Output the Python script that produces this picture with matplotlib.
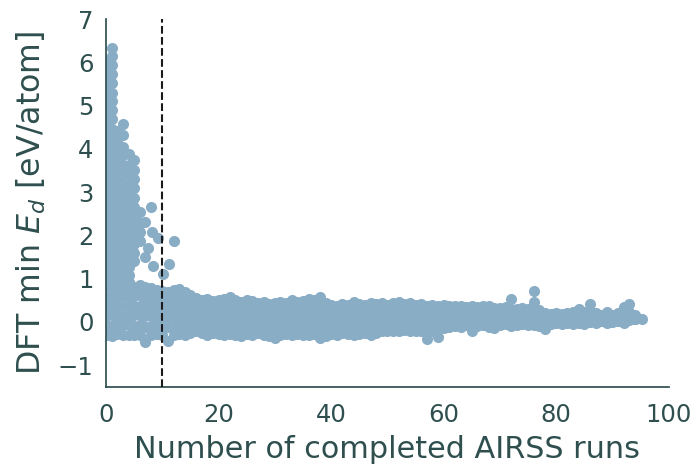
import matplotlib
matplotlib.use("Agg")
import matplotlib.pyplot as plt

# ---- data -------------------------------------------------------------
# columns of the main band: one entry per number of completed runs (0..94)
band_runs = list(range(95))

band_top = [
    0.80, 0.82, 0.80, 0.78, 0.80, 0.80, 0.85, 0.80, 0.78, 0.74,
    0.72, 0.70, 0.74, 0.76, 0.70, 0.62, 0.55, 0.50, 0.52, 0.48,
    0.50, 0.52, 0.57, 0.50, 0.46, 0.50, 0.48, 0.44, 0.46, 0.42,
    0.44, 0.46, 0.44, 0.50, 0.46, 0.48, 0.52, 0.50, 0.57, 0.44,
    0.40, 0.38, 0.42, 0.40, 0.45, 0.42, 0.40, 0.43, 0.42, 0.44,
    0.40, 0.43, 0.45, 0.42, 0.44, 0.40, 0.42, 0.38, 0.40, 0.38,
    0.40, 0.37, 0.36, 0.38, 0.35, 0.36, 0.34, 0.38, 0.36, 0.33,
    0.32, 0.34, 0.53, 0.30, 0.32, 0.30, 0.46, 0.28, 0.20, 0.18,
    0.20, 0.18, 0.20, 0.22, 0.30, 0.22, 0.41, 0.20, 0.15, 0.22,
    0.15, 0.20, 0.34, 0.41, 0.15,
]

band_q1 = [
    0.58, 0.60, 0.57, 0.59, 0.58, 0.60, 0.62, 0.58, 0.57, 0.55,
    0.54, 0.52, 0.55, 0.56, 0.50, 0.45, 0.36, 0.33, 0.34, 0.31,
    0.33, 0.34, 0.36, 0.32, 0.30, 0.33, 0.31, 0.29, 0.30, 0.28,
    0.29, 0.31, 0.29, 0.33, 0.30, 0.32, 0.34, 0.33, 0.36, 0.29,
    0.27, 0.26, 0.28, 0.27, 0.30, 0.28, 0.27, 0.29, 0.28, 0.29,
    0.27, 0.29, 0.30, 0.28, 0.29, 0.27, 0.28, 0.25, 0.27, 0.25,
    0.24, 0.23, 0.22, 0.24, 0.22, 0.23, 0.21, 0.24, 0.22, 0.21,
    0.20, 0.21, 0.30, 0.19, 0.20, 0.19, 0.28, 0.18, 0.12, 0.11,
    0.12, 0.11, 0.12, 0.13, 0.18, 0.13, 0.25, 0.12, 0.10, 0.13,
    0.10, 0.12, 0.20, 0.24, 0.11,
]

band_q2 = [
    0.36, 0.37, 0.35, 0.36, 0.35, 0.37, 0.38, 0.36, 0.35, 0.34,
    0.33, 0.32, 0.34, 0.35, 0.31, 0.27, 0.18, 0.16, 0.17, 0.15,
    0.16, 0.17, 0.18, 0.16, 0.14, 0.16, 0.15, 0.13, 0.14, 0.12,
    0.13, 0.15, 0.14, 0.16, 0.14, 0.15, 0.17, 0.16, 0.18, 0.13,
    0.12, 0.11, 0.13, 0.12, 0.14, 0.13, 0.12, 0.13, 0.13, 0.14,
    0.12, 0.13, 0.14, 0.13, 0.14, 0.12, 0.13, 0.10, 0.12, 0.10,
    0.13, 0.12, 0.12, 0.13, 0.12, 0.11, 0.11, 0.13, 0.12, 0.11,
    0.11, 0.12, 0.16, 0.11, 0.12, 0.11, 0.15, 0.10, 0.06, 0.07,
    0.08, 0.07, 0.08, 0.08, 0.12, 0.08, 0.14, 0.08, 0.07, 0.09,
    0.06, 0.08, 0.12, 0.14, 0.10,
]

band_q3 = [
    0.14, 0.15, 0.13, 0.14, 0.14, 0.15, 0.16, 0.13, 0.14, 0.13,
    0.12, 0.11, 0.13, 0.14, 0.12, 0.10, 0.02, 0.01, 0.02, 0.00,
    0.01, 0.02, 0.03, 0.01, 0.00, 0.01, 0.01, -0.01, 0.00, -0.02,
    -0.01, 0.01, 0.00, 0.02, 0.00, 0.01, 0.02, 0.01, 0.03, -0.01,
    -0.01, -0.02, 0.00, -0.01, 0.01, 0.00, -0.01, 0.00, 0.00, 0.01,
    0.00, 0.01, 0.02, 0.01, 0.02, 0.00, 0.01, -0.02, 0.00, -0.02,
    0.02, 0.02, 0.03, 0.02, 0.03, 0.01, 0.02, 0.03, 0.02, 0.01,
    0.03, 0.04, 0.05, 0.03, 0.04, 0.03, 0.05, 0.02, 0.00, 0.02,
    0.04, 0.02, 0.04, 0.03, 0.06, 0.03, 0.07, 0.04, 0.05, 0.04,
    0.04, 0.05, 0.06, 0.08, 0.09,
]

band_q4 = [
    -0.08, -0.09, -0.07, -0.08, -0.08, -0.09, -0.08, -0.12, -0.09, -0.08,
    -0.09, -0.12, -0.09, -0.08, -0.09, -0.08, -0.12, -0.13, -0.14, -0.12,
    -0.13, -0.14, -0.13, -0.14, -0.15, -0.13, -0.14, -0.12, -0.14, -0.15,
    -0.17, -0.14, -0.13, -0.14, -0.13, -0.14, -0.14, -0.13, -0.17, -0.15,
    -0.13, -0.14, -0.12, -0.13, -0.14, -0.13, -0.12, -0.14, -0.12, -0.11,
    -0.11, -0.10, -0.10, -0.09, -0.10, -0.11, -0.10, -0.18, -0.10, -0.16,
    -0.06, -0.05, -0.04, -0.05, -0.03, -0.08, -0.04, -0.03, -0.05, -0.06,
    -0.03, -0.01, -0.04, -0.02, -0.01, -0.03, -0.02, -0.04, -0.07, -0.02,
    0.00, -0.02, 0.00, -0.02, 0.00, -0.01, 0.02, 0.00, 0.03, 0.00,
    0.01, 0.03, 0.01, 0.06, 0.08,
]

band_bottom = [
    -0.30, -0.32, -0.28, -0.30, -0.29, -0.31, -0.30, -0.47, -0.30, -0.28,
    -0.30, -0.43, -0.30, -0.28, -0.30, -0.25, -0.22, -0.25, -0.30, -0.25,
    -0.28, -0.30, -0.27, -0.30, -0.32, -0.28, -0.30, -0.26, -0.30, -0.33,
    -0.38, -0.30, -0.27, -0.30, -0.28, -0.30, -0.30, -0.28, -0.37, -0.32,
    -0.28, -0.30, -0.25, -0.27, -0.30, -0.28, -0.26, -0.30, -0.25, -0.22,
    -0.22, -0.20, -0.20, -0.18, -0.20, -0.22, -0.20, -0.39, -0.20, -0.35,
    -0.15, -0.12, -0.10, -0.12, -0.08, -0.20, -0.10, -0.08, -0.12, -0.15,
    -0.08, -0.05, -0.10, -0.06, -0.05, -0.08, -0.06, -0.10, -0.16, -0.05,
    -0.02, -0.05, -0.03, -0.05, -0.02, -0.04, 0.00, -0.03, 0.02, -0.02,
    0.00, 0.02, -0.02, 0.05, 0.08,
]

# early runs with high formation energies
tall_runs = (
    [0] * 25 + [1] * 26 + [2] * 17 + [3] * 17 + [4] * 15 + [5] * 12 + [6] * 4
)
tall_ed = [
    # 0 runs
    6.05, 5.86, 5.62, 5.44, 5.21, 5.02, 4.79, 4.58, 4.37, 4.15, 3.96, 3.72,
    3.51, 3.30, 3.08, 2.90, 2.66, 2.47, 2.24, 2.03, 1.82, 1.60, 1.41, 1.19, 0.98,
    # 1 run
    6.33, 6.14, 5.95, 5.73, 5.52, 5.30, 5.11, 4.90, 4.68, 4.47, 4.26, 4.04,
    3.83, 3.62, 3.40, 3.19, 2.97, 2.76, 2.55, 2.33, 2.12, 1.91, 1.69, 1.48,
    1.27, 1.05,
    # 2 runs
    4.42, 4.20, 3.99, 3.77, 3.56, 3.35, 3.13, 2.92, 2.70, 2.49, 2.28, 2.06,
    1.85, 1.64, 1.42, 1.21, 1.00,
    # 3 runs
    4.58, 4.33, 4.05, 3.86, 3.62, 3.40, 3.17, 2.95, 2.74, 2.51, 2.30, 2.08,
    1.87, 1.65, 1.44, 1.22, 1.02,
    # 4 runs
    3.88, 3.62, 3.41, 3.19, 2.98, 2.76, 2.55, 2.34, 2.12, 1.91, 1.70, 1.48,
    1.27, 1.08, 0.92,
    # 5 runs
    3.75, 3.52, 3.30, 3.09, 2.87, 2.66, 2.45, 2.23, 2.02, 1.80, 1.60, 1.40,
    # 6 runs
    2.53, 2.28, 2.07, 1.86,
]

# isolated points
spike_runs = [7.0, 8.0, 8.1, 9.3, 12.1, 7.5, 6.9, 8.4, 11.1, 10.1, 76.0, 95.2]
spike_ed = [2.30, 2.65, 2.07, 1.95, 1.87, 1.72, 1.49, 1.30, 1.34, 1.10, 0.71, 0.07]

cutoff_runs = 10

# ---- plot -------------------------------------------------------------
text_color = "#2f4f4f"
point_color = "#8aadc6"

plt.rcParams["font.family"] = ["DejaVu Sans"]

fig = plt.figure(figsize=(6.98, 4.65), dpi=100)
ax = fig.add_axes([0.152, 0.168, 0.806, 0.791])

scatter_kw = dict(s=64, color=point_color, linewidths=0, zorder=2)
for band in (band_bottom, band_q4, band_q3, band_q2, band_q1, band_top):
    ax.scatter(band_runs, band, **scatter_kw)
ax.scatter(tall_runs, tall_ed, **scatter_kw)
ax.scatter(spike_runs, spike_ed, **scatter_kw)

ax.axvline(cutoff_runs, color="#1a1a1a", linestyle="--", linewidth=1.5, zorder=3)

ax.set_xlim(0, 100)
ax.set_ylim(-1.5, 7)
ax.set_xticks([0, 20, 40, 60, 80, 100])
ax.set_yticks([-1, 0, 1, 2, 3, 4, 5, 6, 7])

for side in ("top", "right"):
    ax.spines[side].set_visible(False)
for side in ("left", "bottom"):
    ax.spines[side].set_color(text_color)
    ax.spines[side].set_linewidth(1.25)

ax.tick_params(axis="both", length=0, labelsize=17.5, labelcolor=text_color)
ax.tick_params(axis="x", pad=11.5)
ax.tick_params(axis="y", pad=9)

ax.set_xlabel("Number of completed AIRSS runs", fontsize=21.8, color=text_color,
              labelpad=6)
ax.set_ylabel(r"DFT min $E_d$ [eV/atom]", fontsize=22.8, color=text_color,
              labelpad=7)

fig.savefig("out.png", dpi=100)
